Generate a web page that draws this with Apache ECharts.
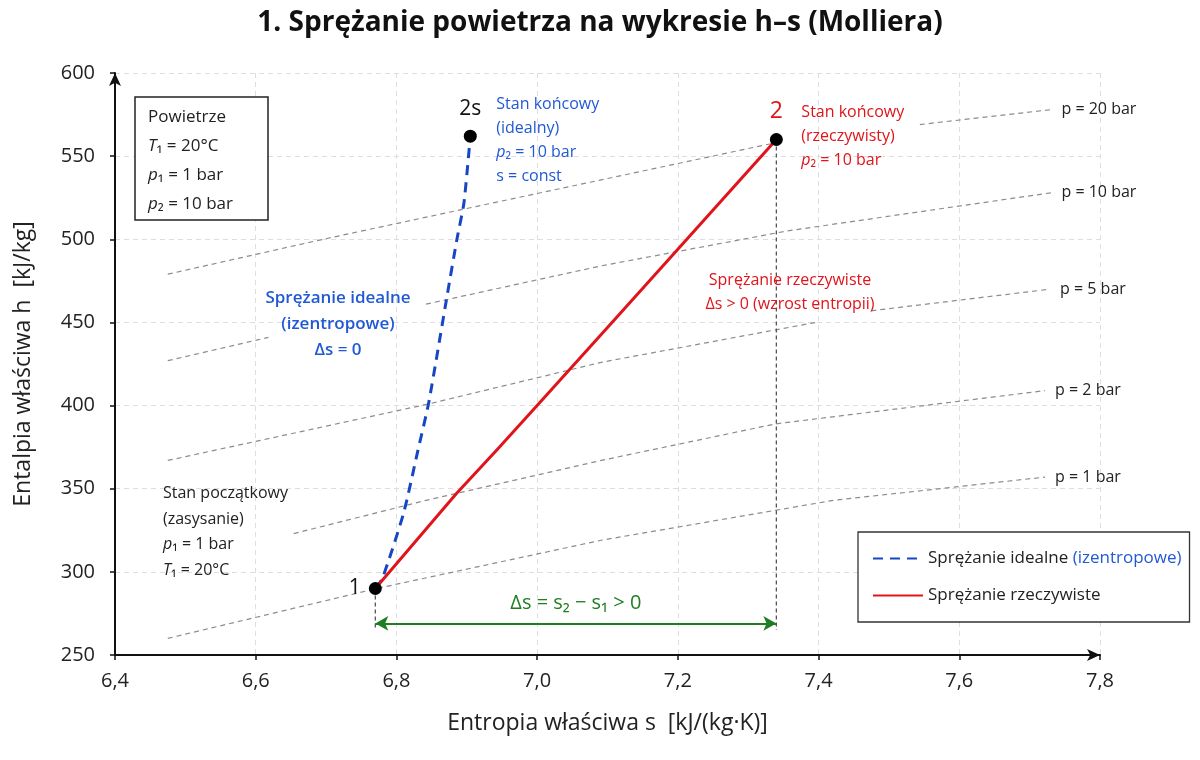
<!DOCTYPE html>
<html>
<head>
<meta charset="utf-8">
<title>Sprężanie powietrza h-s</title>
<script src="https://cdn.jsdelivr.net/npm/echarts@6/dist/echarts.min.js"></script>
<style>
  html, body { margin: 0; padding: 0; background: #fff; }
  #chart { width: 1200px; height: 760px; }
</style>
</head>
<body>
<div id="chart"></div>
<script>
"use strict";

const FONT = '"Open Sans", "Noto Sans", sans-serif';
const BLUE = "#1646c4";
const BLUE_TXT = "#2159d4";
const RED = "#e0141a";
const GREEN = "#1f7d22";

// state points (s [kJ/(kg K)], h [kJ/kg])
const s1 = 6.77, h1 = 290;
const s2s = 6.905, h2s = 562;
const s2 = 7.34, h2 = 560;
const hArrow = 269;
const hGuide = 265;

// compression paths
const idealS = [6.77, 6.78, 6.81, 6.83, 6.846, 6.872, 6.886, 6.896, 6.905];
const idealH = [290, 296, 335, 372, 402, 466, 500, 522, 562];
const realS = [6.77, 6.885, 6.942, 7.0, 7.1, 7.2, 7.34];
const realH = [290, 347, 373, 400, 447, 494, 560];

// isobars, null = gap behind a text
const isobarNames = ["p = 20 bar", "p = 10 bar", "p = 5 bar", "p = 2 bar", "p = 1 bar"];
const isoP20 = [[6.475, 479], [6.685, 499], [6.872, 516], [7.338, 558], null, [7.544, 569], [7.731, 578]];
const isoP10 = [[6.475, 427], [6.618, 441], null, [6.842, 461], [7.091, 484], [7.355, 505], [7.731, 528]];
const isoP5 = [[6.475, 367], [6.846, 401], [7.091, 426], [7.396, 450], null, [7.475, 457], [7.729, 470]];
const isoP2 = [[6.654, 323], [6.842, 343], [7.091, 367], [7.339, 389], [7.722, 409]];
const isoP1 = [[6.475, 260], [6.772, 290], [7.091, 319], [7.421, 343], [7.722, 357]];
const isobars = [isoP20, isoP10, isoP5, isoP2, isoP1];

const legendNames = ["Sprężanie idealne", "Sprężanie rzeczywiste"];

function pairs(xs, ys) {
  return xs.map((x, i) => [x, ys[i]]);
}

function segments(points) {
  let parts = [[]];
  points.forEach(p => {
    if (p === null) parts.push([]);
    else parts[parts.length - 1].push(p);
  });
  return parts.filter(p => p.length);
}

function isobarSeries(name, points) {
  const parts = segments(points);
  return parts.map((seg, i) => ({
    name: name,
    type: "line",
    data: seg,
    symbol: "none",
    silent: true,
    z: 1,
    lineStyle: { color: "#8c8c8c", width: 1.2, type: [5, 4] },
    endLabel: {
      show: i === parts.length - 1,
      formatter: () => name,
      color: "#222",
      fontSize: 16,
      fontFamily: FONT,
      distance: 10
    }
  }));
}

const fmtComma = v => v.toFixed(1).replace(".", ",");

const chart = echarts.init(document.getElementById("chart"), null, { renderer: "canvas" });

let series = [];
isobarNames.forEach((n, i) => {
  series = series.concat(isobarSeries(n, isobars[i]));
});

series.push(
  {
    name: "guide1",
    type: "line",
    data: [[s1, h1], [s1, hGuide]],
    symbol: "none",
    silent: true,
    lineStyle: { color: "#555", width: 1.3, type: [4, 3] },
    z: 2
  },
  {
    name: "guide2",
    type: "line",
    data: [[s2, h2], [s2, hGuide]],
    symbol: "none",
    silent: true,
    lineStyle: { color: "#555", width: 1.3, type: [4, 3] },
    z: 2
  },
  {
    name: "deltaS",
    type: "line",
    data: [],
    symbol: "none",
    silent: true,
    markLine: {
      silent: true,
      symbol: ["arrow", "arrow"],
      symbolSize: [11, 13],
      lineStyle: { color: GREEN, width: 2, type: "solid" },
      label: {
        show: true,
        position: "insideMiddleTop",
        distance: 10,
        formatter: "Δs = s₂ − s₁ > 0",
        color: GREEN,
        fontSize: 20,
        fontFamily: FONT
      },
      data: [[{ coord: [s1, hArrow] }, { coord: [s2, hArrow] }]]
    }
  },
  {
    name: legendNames[0],
    type: "line",
    data: pairs(idealS, idealH),
    symbol: "none",
    smooth: 0.2,
    z: 5,
    lineStyle: { color: BLUE, width: 3, type: [10, 7] },
    itemStyle: { color: BLUE }
  },
  {
    name: legendNames[1],
    type: "line",
    data: pairs(realS, realH),
    symbol: "none",
    z: 5,
    lineStyle: { color: RED, width: 3, type: "solid", join: "round" },
    itemStyle: { color: RED }
  },
  {
    name: "points",
    type: "scatter",
    symbolSize: 13,
    z: 10,
    silent: true,
    itemStyle: { color: "#000", opacity: 1 },
    data: [
      {
        value: [s1, h1],
        label: { show: true, formatter: "1", position: "left", distance: 8, fontSize: 21, color: "#111", fontFamily: FONT }
      },
      {
        value: [s2s, h2s],
        label: { show: true, formatter: "2s", position: "top", distance: 10, fontSize: 21, color: "#111", fontFamily: FONT }
      },
      {
        value: [s2, h2],
        label: { show: true, formatter: "2", position: "top", distance: 10, fontSize: 23, color: RED, fontFamily: FONT }
      }
    ]
  }
);

const staticGraphics = [
  {
    type: "rect",
    shape: { x: 135, y: 97, width: 133, height: 123 },
    style: { fill: "#fff", stroke: "#222", lineWidth: 1.5 },
    z: 20
  },
  {
    type: "text",
    x: 148,
    y: 103,
    z: 21,
    style: {
      text: "Powietrze\n{i|T}₁ = 20°C\n{i|p}₁ = 1 bar\n{i|p}₂ = 10 bar",
      fill: "#222",
      fontSize: 17,
      fontFamily: FONT,
      lineHeight: 29,
      rich: { i: { fontStyle: "italic", fontSize: 17, fontFamily: FONT, lineHeight: 29 } }
    }
  },
  {
    type: "text",
    x: 338,
    y: 285,
    z: 21,
    style: {
      text: "Sprężanie idealne\n(izentropowe)\nΔs = 0",
      fill: BLUE_TXT,
      fontSize: 17,
      fontWeight: 600,
      fontFamily: FONT,
      lineHeight: 26,
      align: "center"
    }
  },
  {
    type: "text",
    x: 163,
    y: 481,
    z: 21,
    style: {
      text: "Stan początkowy\n(zasysanie)\n{i|p}₁ = 1 bar\n{i|T}₁ = 20°C",
      fill: "#222",
      fontSize: 16,
      fontFamily: FONT,
      lineHeight: 25.5,
      rich: { i: { fontStyle: "italic", fontSize: 16, fontFamily: FONT, lineHeight: 25.5 } }
    }
  },
  {
    type: "text",
    x: 790,
    y: 268,
    z: 21,
    style: {
      text: "Sprężanie rzeczywiste\nΔs > 0 (wzrost entropii)",
      fill: RED,
      fontSize: 16,
      fontFamily: FONT,
      lineHeight: 24,
      align: "center"
    }
  }
];

chart.setOption({
  animation: false,
  backgroundColor: "#fff",
  title: {
    text: "1. Sprężanie powietrza na wykresie h–s (Molliera)",
    left: "center",
    top: 4,
    textStyle: { fontSize: 28, fontWeight: "bold", fontFamily: FONT, color: "#111" }
  },
  legend: {
    data: legendNames,
    orient: "vertical",
    left: 858,
    top: 532,
    padding: [18, 8, 18, 14],
    itemGap: 20,
    itemWidth: 50,
    itemHeight: 14,
    backgroundColor: "#fff",
    borderColor: "#333",
    borderWidth: 1.3,
    borderRadius: 0,
    selectedMode: false,
    itemStyle: { opacity: 0 },
    formatter: name =>
      name === legendNames[0] ? "{a|Sprężanie idealne }{b|(izentropowe)}" : "{a|" + name + "}",
    textStyle: {
      fontSize: 17,
      fontFamily: FONT,
      color: "#222",
      rich: {
        a: { fontSize: 17, fontFamily: FONT, color: "#222" },
        b: { fontSize: 17, fontFamily: FONT, color: BLUE_TXT }
      }
    }
  },
  grid: { left: 115, top: 73, right: 100, bottom: 105 },
  xAxis: {
    type: "value",
    min: 6.4,
    max: 7.8,
    interval: 0.2,
    name: "Entropia właściwa s  [kJ/(kg·K)]",
    nameLocation: "middle",
    nameGap: 57,
    nameTextStyle: { fontSize: 23, fontFamily: FONT, color: "#222" },
    axisLine: { lineStyle: { color: "#111", width: 2 }, symbol: ["none", "arrow"], symbolSize: [9, 13] },
    axisTick: { show: true, length: 5, lineStyle: { color: "#111", width: 1.5 } },
    axisLabel: { formatter: fmtComma, fontSize: 20, fontFamily: FONT, color: "#222", margin: 16 },
    splitLine: { show: true, lineStyle: { color: "#dedede", type: [5, 4] } }
  },
  yAxis: {
    type: "value",
    min: 250,
    max: 600,
    interval: 50,
    name: "Entalpia właściwa h  [kJ/kg]",
    nameLocation: "middle",
    nameGap: 80,
    nameTextStyle: { fontSize: 23, fontFamily: FONT, color: "#222" },
    axisLine: { lineStyle: { color: "#111", width: 2 }, symbol: ["none", "arrow"], symbolSize: [9, 13] },
    axisTick: { show: true, length: 5, lineStyle: { color: "#111", width: 1.5 } },
    axisLabel: { fontSize: 20, fontFamily: FONT, color: "#222", margin: 20 },
    splitLine: { show: true, lineStyle: { color: "#dedede", type: [5, 4] } }
  },
  series: series,
  graphic: staticGraphics
});

// notes that follow the end states
function placeNotes() {
  const a = chart.convertToPixel({ gridIndex: 0 }, [s2s, h2s]);
  const b = chart.convertToPixel({ gridIndex: 0 }, [s2, h2]);
  const rich = col => ({ i: { fontStyle: "italic", fontSize: 16, fontFamily: FONT, lineHeight: 24, fill: col } });
  chart.setOption({
    graphic: staticGraphics.concat([
      {
        type: "text",
        x: a[0] + 26,
        y: a[1] - 44,
        z: 21,
        style: {
          text: "Stan końcowy\n(idealny)\n{i|p}₂ = 10 bar\ns = const",
          fill: BLUE_TXT,
          fontSize: 16,
          fontFamily: FONT,
          lineHeight: 24,
          rich: rich(BLUE_TXT)
        }
      },
      {
        type: "text",
        x: b[0] + 25,
        y: b[1] - 39,
        z: 21,
        style: {
          text: "Stan końcowy\n(rzeczywisty)\n{i|p}₂ = 10 bar",
          fill: RED,
          fontSize: 16,
          fontFamily: FONT,
          lineHeight: 24,
          rich: rich(RED)
        }
      }
    ])
  });
}

placeNotes();
</script>
</body>
</html>
